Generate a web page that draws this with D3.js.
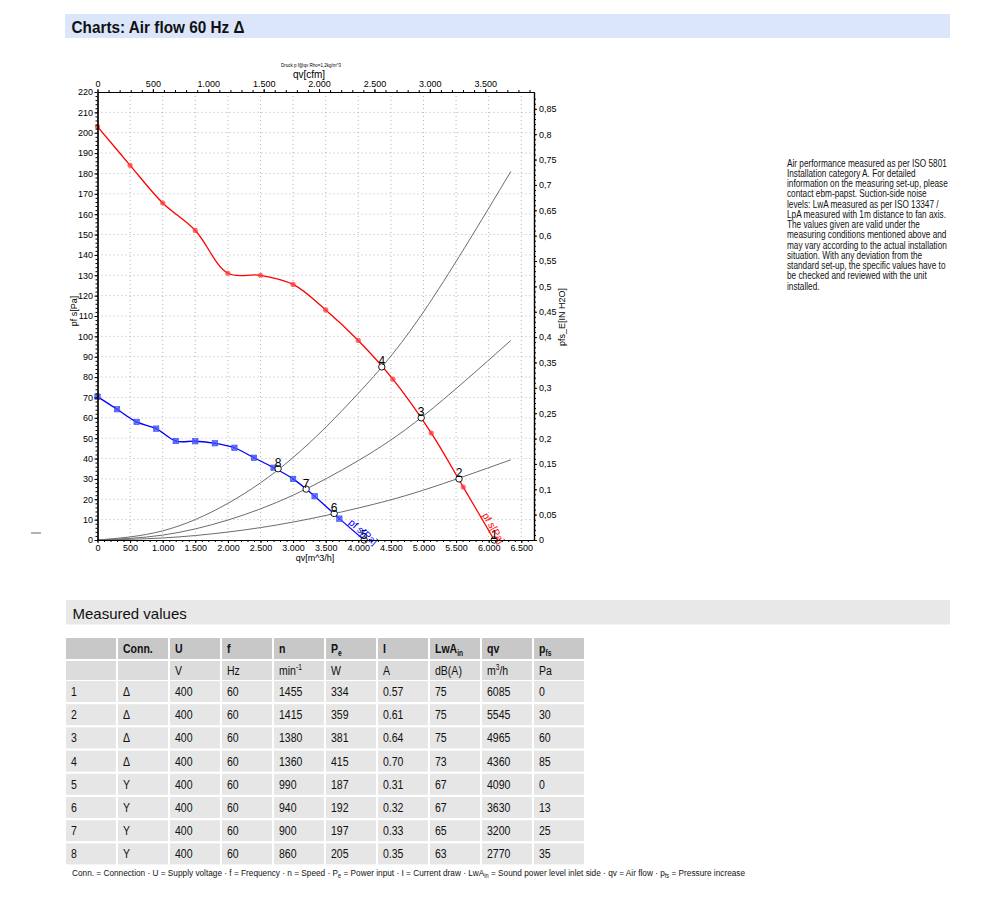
<!DOCTYPE html>
<html>
<head>
<meta charset="utf-8">
<script src="https://cdn.jsdelivr.net/npm/d3@7/dist/d3.min.js"></script>
<style>
  body { margin: 0; background: #fff; }
  svg { display: block; }
  text { font-family: "Liberation Sans", Arial, Helvetica, sans-serif; }
</style>
</head>
<body>
<svg width="1000" height="901"></svg>
<script>
const FONT = "'Liberation Sans', Arial, Helvetica, sans-serif";
const svg = d3.select("svg");

// red curve, delta connection: pf s [Pa] over qv [m^3/h]
const redQ = [0, 500, 1000, 1500, 2000, 2500, 3000, 3500, 4000, 4530, 5120, 5610];
const redP = [203, 184, 165.5, 152, 131, 130, 125.5, 113, 98, 79, 52.5, 26];

// blue curve, star connection
const blueQ = [0, 300, 600, 900, 1200, 1500, 1800, 2100, 2400, 2700, 3000, 3330, 3710];
const blueP = [70.4, 64.2, 58, 54.7, 48.6, 48.5, 47.5, 45.3, 40.4, 35.5, 30, 21.5, 10.5];

// gray system curves
const sysQ = [0, 1000, 2000, 3000, 4000, 5000, 6340];
const sysHigh = [0, 4.5, 18, 40.5, 72, 112, 181];
const sysMid = [0, 2.4, 9.8, 22, 39, 61, 98];
const sysLow = [0, 1, 3.9, 8.8, 15.7, 24.5, 39.4];

// measured values table
const rowNo = ["1", "2", "3", "4", "5", "6", "7", "8"];
const conn = ["Δ", "Δ", "Δ", "Δ", "Y", "Y", "Y", "Y"];
const voltage = [400, 400, 400, 400, 400, 400, 400, 400];
const freq = [60, 60, 60, 60, 60, 60, 60, 60];
const speed = [1455, 1415, 1380, 1360, 990, 940, 900, 860];
const power = [334, 359, 381, 415, 187, 192, 197, 205];
const current = ["0.57", "0.61", "0.64", "0.70", "0.31", "0.32", "0.33", "0.35"];
const noise = [75, 75, 75, 73, 67, 67, 65, 63];
const airflow = [6085, 5545, 4965, 4360, 4090, 3630, 3200, 2770];
const pressure = [0, 30, 60, 85, 0, 13, 25, 35];

const headRow = [[""], ["Conn."], ["U"], ["f"], ["n"], ["P", "e"], ["I"], ["LwA", "in"], ["qv"], ["p", "fs"]];
const unitRow = [[""], [""], ["V"], ["Hz"], ["min", "-1"], ["W"], ["A"], ["dB(A)"], ["m", "3", "/h"], ["Pa"]];

const leftTicks = d3.range(0, 221, 10);
const bottomTicks = d3.range(0, 6501, 500);
const topTicks = d3.range(0, 3501, 500);
const rightTicks = d3.range(0, 18).map(i => i * 0.05);

const notes = [
  "Air performance measured as per ISO 5801",
  "Installation category A. For detailed",
  "information on the measuring set-up, please",
  "contact ebm-papst. Suction-side noise",
  "levels: LwA measured as per ISO 13347 /",
  "LpA measured with 1m distance to fan axis.",
  "The values given are valid under the",
  "measuring conditions mentioned above and",
  "may vary according to the actual installation",
  "situation. With any deviation from the",
  "standard set-up, the specific values have to",
  "be checked and reviewed with the unit",
  "installed."
];

// ---------- helpers ----------
// the source uses a narrow face, so squeeze a text into a measured width
function squeeze(sel, x, y, width) {
  const w = sel.node().getComputedTextLength();
  const k = width / w;
  sel.attr("transform", `translate(${x},${y}) scale(${k},1)`);
  return k;
}

// ---------- header bar ----------
svg.append("rect").attr("x", 65).attr("y", 14).attr("width", 885).attr("height", 24).attr("fill", "#dbe6fa");
const title = svg.append("text").attr("font-size", 16).attr("font-weight", "bold").attr("fill", "#111")
  .text("Charts: Air flow 60 Hz Δ");
squeeze(title, 71.5, 32.5, 173);

svg.append("line").attr("x1", 31).attr("x2", 41).attr("y1", 533).attr("y2", 533)
  .attr("stroke", "#8a8a8a").attr("stroke-width", 1.3);

// ---------- chart ----------
const M = { left: 97.5, right: 534, top: 92, bottom: 540 };
const QMAX = 6695;
const x = d3.scaleLinear().domain([0, QMAX]).range([M.left, M.right]);
const y = d3.scaleLinear().domain([0, 220]).range([M.bottom, M.top]);
const xCfm = d3.scaleLinear().domain([0, QMAX / 1.699]).range([M.left, M.right]);
const yIn = d3.scaleLinear().domain([0, 220 / 249.089]).range([M.bottom, M.top]);

const grid = svg.append("g").attr("stroke", "#b4b4b4").attr("stroke-dasharray", "1,3");
grid.selectAll(".h").data(leftTicks.slice(1, -1)).enter().append("line")
  .attr("x1", M.left).attr("x2", M.right).attr("y1", d => y(d)).attr("y2", d => y(d));
grid.selectAll(".v").data(bottomTicks.slice(1)).enter().append("line")
  .attr("y1", M.top).attr("y2", M.bottom).attr("x1", d => x(d)).attr("x2", d => x(d));

const smooth = d3.line().x(d => x(d[0])).y(d => y(d[1])).curve(d3.curveNatural);
[sysHigh, sysMid, sysLow].forEach(s => {
  svg.append("path").datum(d3.zip(sysQ, s)).attr("d", smooth)
    .attr("fill", "none").attr("stroke", "#6c6c6c").attr("stroke-width", 1);
});

const fanLine = d3.line().x(d => x(d[0])).y(d => y(d[1])).curve(d3.curveCatmullRom.alpha(0.5));
svg.append("path").datum(d3.zip(redQ, redP).concat([[airflow[0], pressure[0]]])).attr("d", fanLine)
  .attr("fill", "none").attr("stroke", "#ff0000").attr("stroke-width", 1.3);
svg.append("path").datum(d3.zip(blueQ, blueP).concat([[airflow[4], pressure[4]]])).attr("d", fanLine)
  .attr("fill", "none").attr("stroke", "#0000ff").attr("stroke-width", 1.3);

svg.append("g").selectAll("circle").data(d3.zip(redQ, redP)).enter().append("circle")
  .attr("cx", d => x(d[0])).attr("cy", d => y(d[1])).attr("r", 2.6)
  .attr("fill", "#ff3b3b").attr("fill-opacity", 0.75);

const bm = svg.append("g").selectAll("g").data(d3.zip(blueQ, blueP)).enter().append("g")
  .attr("transform", d => `translate(${x(d[0])},${y(d[1])})`);
bm.append("rect").attr("x", -2.7).attr("y", -2.7).attr("width", 5.4).attr("height", 5.4)
  .attr("fill", "#5566ff").attr("fill-opacity", 0.8).attr("stroke", "#3344ff").attr("stroke-width", 0.6);
bm.append("path").attr("d", "M-2.2,-2.2L2.2,2.2M-2.2,2.2L2.2,-2.2").attr("stroke", "#2233dd").attr("stroke-width", 0.6);

// operating points 1..8
const ops = svg.append("g").selectAll("g").data(d3.range(airflow.length)).enter().append("g")
  .attr("transform", i => `translate(${x(airflow[i])},${y(pressure[i])})`);
ops.append("circle").attr("r", 3.2).attr("fill", "#fff").attr("stroke", "#000").attr("stroke-width", 0.9);
ops.append("text").attr("y", -1.5).attr("text-anchor", "middle").attr("font-size", 12).attr("fill", "#000")
  .text(i => rowNo[i]);

function curveLabel(q0, p0, q1, p1, t, text, color) {
  const x0 = x(q0), y0 = y(p0), x1 = x(q1), y1 = y(p1);
  const ang = Math.atan2(y1 - y0, x1 - x0) * 180 / Math.PI;
  svg.append("text")
    .attr("transform", `translate(${x0 + (x1 - x0) * t},${y0 + (y1 - y0) * t}) rotate(${ang})`)
    .attr("dy", -2).attr("font-size", 10).attr("fill", color).text(text);
}
curveLabel(redQ[redQ.length - 1], redP[redP.length - 1], airflow[0], pressure[0], 0.55, "pf s[Pa]", "#ff0000");
curveLabel(blueQ[blueQ.length - 1], blueP[blueP.length - 1], airflow[4], pressure[4], 0.3, "pf s[Pa]", "#0000ff");

// axes
const dotFmt = d => d3.format(",")(d).replace(/,/g, ".");
const commaFmt = d => d === 0 ? "0" : d3.format(".2~f")(d).replace(".", ",");

function styleAxis(g) {
  g.attr("font-family", FONT).attr("font-size", 9);
  g.selectAll("text").attr("fill", "#000");
  g.selectAll("line").attr("stroke", "#000");
  g.select(".domain").attr("stroke", "#000").attr("stroke-width", 1.2);
}
function minor(axis, vals, at) {
  svg.append("g").attr("transform", at)
    .call(axis.tickValues(vals).tickSize(2).tickSizeOuter(0).tickFormat(""))
    .call(styleAxis);
}

minor(d3.axisLeft(y), d3.range(0, 220, 2), `translate(${M.left},0)`);
minor(d3.axisBottom(x), d3.range(0, QMAX, 100), `translate(0,${M.bottom})`);
minor(d3.axisTop(xCfm), d3.range(0, QMAX / 1.699, 100), `translate(0,${M.top})`);
minor(d3.axisRight(yIn), d3.range(0, 88).map(i => i * 0.01), `translate(${M.right},0)`);

svg.append("g").attr("transform", `translate(${M.left},0)`)
  .call(d3.axisLeft(y).tickValues(leftTicks).tickSize(3).tickPadding(1.5).tickSizeOuter(0).tickFormat(d3.format("d")))
  .call(styleAxis);
svg.append("g").attr("transform", `translate(0,${M.bottom})`)
  .call(d3.axisBottom(x).tickValues(bottomTicks).tickSize(3).tickPadding(2).tickSizeOuter(0).tickFormat(dotFmt))
  .call(styleAxis);
svg.append("g").attr("transform", `translate(0,${M.top})`)
  .call(d3.axisTop(xCfm).tickValues(topTicks).tickSize(3).tickPadding(2).tickSizeOuter(0).tickFormat(dotFmt))
  .call(styleAxis);
svg.append("g").attr("transform", `translate(${M.right},0)`)
  .call(d3.axisRight(yIn).tickValues(rightTicks).tickSize(3).tickPadding(2).tickSizeOuter(0).tickFormat(commaFmt))
  .call(styleAxis);

svg.append("text").attr("x", 311).attr("y", 67).attr("text-anchor", "middle").attr("font-size", 4.5)
  .text("Druck p f@qv Rho=1,2kg/m^3");
svg.append("text").attr("x", 309).attr("y", 78).attr("text-anchor", "middle").attr("font-size", 10).text("qv[cfm]");
svg.append("text").attr("x", 315).attr("y", 561).attr("text-anchor", "middle").attr("font-size", 9).text("qv[m^3/h]");
svg.append("text").attr("transform", "translate(77,311) rotate(-90)").attr("text-anchor", "middle")
  .attr("font-size", 9).text("pf s[Pa]");
svg.append("text").attr("transform", "translate(565,317) rotate(-90)").attr("text-anchor", "middle")
  .attr("font-size", 9).text("pfs_E[IN H2O]");

// ---------- notes on the right ----------
const noteLines = svg.append("g").selectAll("text").data(notes).enter().append("text")
  .attr("font-size", 10).attr("fill", "#111").text(d => d);
const kNote = noteLines.node().getComputedTextLength();
noteLines.attr("transform", (d, i) => `translate(787,${166.5 + i * 10.25}) scale(${160 / kNote},1)`);

// ---------- measured values ----------
svg.append("rect").attr("x", 66).attr("y", 600).attr("width", 884).attr("height", 24.5).attr("fill", "#e8e8e8");
svg.append("text").attr("x", 72.5).attr("y", 619).attr("font-size", 15).attr("fill", "#111").text("Measured values");

const tableX = 66, colPitch = 52, colW = 50;
const NARROW = 0.78;
function cell(yTop, h, col, fill) {
  svg.append("rect").attr("x", tableX + col * colPitch).attr("y", yTop).attr("width", colW).attr("height", h).attr("fill", fill);
}
function cellText(parts, col, base, bold, subMode) {
  const t = svg.append("text").attr("transform", `translate(${tableX + col * colPitch + 5},${base}) scale(${NARROW},1)`)
    .attr("font-size", 13.5).attr("font-weight", bold ? "bold" : "normal").attr("fill", "#111");
  t.append("tspan").text(parts[0]);
  if (parts.length > 1) {
    const shift = subMode === "sup" ? -5 : 3;
    t.append("tspan").attr("dy", shift).attr("font-size", 8.5).text(parts[1]);
    if (parts.length > 2) t.append("tspan").attr("dy", -shift).text(parts[2]);
  }
}

headRow.forEach((h, c) => { cell(638, 21, c, "#c8c8c8"); cellText(h, c, 653, true, "sub"); });
unitRow.forEach((u, c) => { cell(661, 19, c, "#dcdcdc"); cellText(u, c, 675, false, "sup"); });

const tableRows = d3.range(rowNo.length).map(i => [rowNo[i], conn[i], voltage[i], freq[i], speed[i], power[i], current[i], noise[i], airflow[i], pressure[i]]);
tableRows.forEach((r, i) => {
  const top = 681 + i * 23.2;
  r.forEach((v, c) => { cell(top, 21, c, "#e6e6e6"); cellText([String(v)], c, top + 15, false); });
});

// footnote
const foot = svg.append("text").attr("font-size", 9.5).attr("fill", "#111");
[["Conn. = Connection · U = Supply voltage · f = Frequency · n = Speed · P"], ["e", 1], [" = Power input · I = Current draw · LwA"], ["in", 1],
 [" = Sound power level inlet side · qv = Air flow · p"], ["fs", 1], [" = Pressure increase"]].forEach(p => {
  const s = foot.append("tspan").text(p[0]);
  if (p[1]) s.attr("font-size", 6.5).attr("dy", 2);
  else if (foot.selectAll("tspan").size() > 1) s.attr("dy", -2);
});
squeeze(foot, 72, 876, 674);
</script>
</body>
</html>
